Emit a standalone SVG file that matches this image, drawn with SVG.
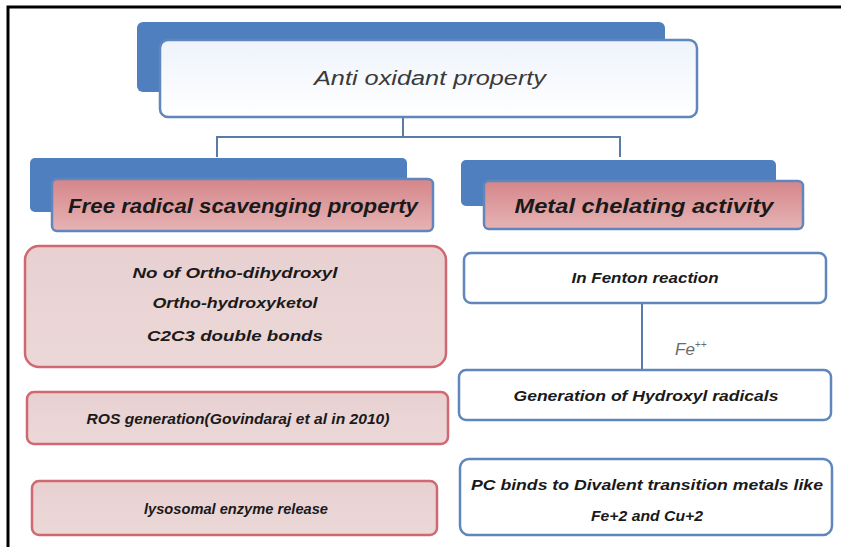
<svg xmlns="http://www.w3.org/2000/svg" width="841" height="547" viewBox="0 0 841 547">
<defs>
<linearGradient id="gWhite" x1="0" y1="0" x2="0" y2="1">
<stop offset="0" stop-color="#eef3fb"/><stop offset="1" stop-color="#ffffff"/>
</linearGradient>
<linearGradient id="gPink" x1="0" y1="0" x2="0" y2="1">
<stop offset="0" stop-color="#d5868a"/><stop offset="1" stop-color="#e6b3b4"/>
</linearGradient>
<linearGradient id="gLight" x1="0" y1="0" x2="0" y2="1">
<stop offset="0" stop-color="#e8d0d1"/><stop offset="1" stop-color="#ecd8d8"/>
</linearGradient>
<style>
.back{fill:#4f7fbf;}
.front{stroke:#5f86bd;stroke-width:2.5;}
.hdr{fill:url(#gPink);stroke:#5f86bd;stroke-width:2.5;}
.pbox{fill:url(#gLight);stroke:#cf6870;stroke-width:2.5;}
.wbox{fill:#ffffff;stroke:#5f86bd;stroke-width:2.5;}
.t{font-family:"Liberation Sans",Arial,sans-serif;font-style:italic;font-weight:bold;fill:#1a1a1a;text-anchor:middle;}
.conn{fill:none;stroke:#5a7aa8;stroke-width:2;}
</style>
</defs>
<rect width="841" height="547" fill="#ffffff"/>
<path d="M8 547 V7 H841" fill="none" stroke="#000" stroke-width="3"/>
<g id="connectors">
<path class="conn" d="M403 117 V137 M217 157 V137 H620 V157"/>
<path class="conn" d="M642 303 V370"/>
<text x="675" y="355" font-family="'Liberation Sans',Arial,sans-serif" font-style="italic" font-size="17" fill="#6a6a6a">Fe<tspan font-size="10" dy="-7">++</tspan></text>
</g>
<g id="root">
<rect class="back" x="137" y="22" width="528" height="70" rx="6"/>
<rect class="front" x="160" y="40" width="537" height="77" rx="8" fill="url(#gWhite)"/>
<text x="430" y="85" font-family="'Liberation Sans',Arial,sans-serif" font-style="italic" font-size="20" fill="#3a3a3a" text-anchor="middle" textLength="232" lengthAdjust="spacingAndGlyphs">Anti oxidant property</text>
</g>
<g id="free-radical">
<rect class="back" x="30" y="158" width="377" height="54" rx="5"/>
<rect class="hdr" x="52" y="179" width="381" height="52" rx="5"/>
<text class="t" x="243" y="213" font-size="20" textLength="350" lengthAdjust="spacingAndGlyphs">Free radical scavenging  property</text>
</g>
<g id="metal-chelating">
<rect class="back" x="461" y="160" width="315" height="46" rx="5"/>
<rect class="hdr" x="484" y="181" width="319" height="48" rx="5"/>
<text class="t" x="644" y="213" font-size="20" textLength="259" lengthAdjust="spacingAndGlyphs">Metal chelating activity</text>
</g>
<g id="ortho">
<rect class="pbox" x="25" y="246" width="421" height="121" rx="14"/>
<text class="t" x="235" y="278" font-size="15" textLength="205" lengthAdjust="spacingAndGlyphs">No of Ortho-dihydroxyl</text>
<text class="t" x="235" y="308" font-size="15" textLength="165" lengthAdjust="spacingAndGlyphs">Ortho-hydroxyketol</text>
<text class="t" x="235" y="341" font-size="15" textLength="176" lengthAdjust="spacingAndGlyphs">C2C3 double bonds</text>
</g>
<g id="ros">
<rect class="pbox" x="27" y="392" width="421" height="52" rx="7"/>
<text class="t" x="238" y="424" font-size="15" textLength="303" lengthAdjust="spacingAndGlyphs">ROS generation(Govindaraj  et al in 2010)</text>
</g>
<g id="lysosomal">
<rect class="pbox" x="32" y="481" width="405" height="54" rx="7"/>
<text class="t" x="236" y="514" font-size="15" textLength="184" lengthAdjust="spacingAndGlyphs">lysosomal enzyme release</text>
</g>
<g id="fenton">
<rect class="wbox" x="464" y="253" width="362" height="50" rx="7"/>
<text class="t" x="645" y="283" font-size="15" textLength="147" lengthAdjust="spacingAndGlyphs">In Fenton reaction</text>
</g>
<g id="hydroxyl">
<rect class="wbox" x="459" y="370" width="372" height="50" rx="7"/>
<text class="t" x="646" y="401" font-size="15" textLength="265" lengthAdjust="spacingAndGlyphs">Generation of Hydroxyl radicals</text>
</g>
<g id="pc-binds">
<rect class="wbox" x="460" y="459" width="372" height="76" rx="9"/>
<text class="t" x="647" y="490" font-size="15" textLength="352" lengthAdjust="spacingAndGlyphs">PC binds to Divalent transition metals like</text>
<text class="t" x="647" y="521" font-size="15" textLength="112" lengthAdjust="spacingAndGlyphs">Fe+2 and Cu+2</text>
</g>
</svg>
